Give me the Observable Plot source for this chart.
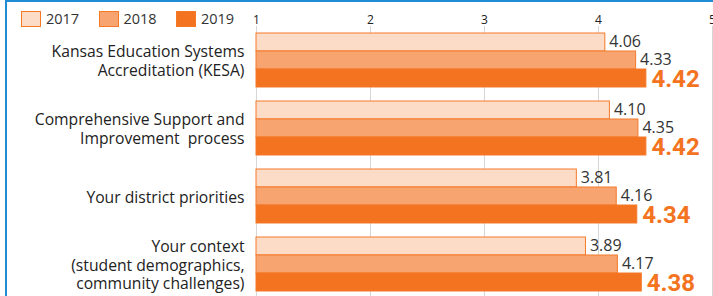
<!DOCTYPE html>
<html>
<head>
<meta charset="utf-8">
<script src="https://cdn.jsdelivr.net/npm/d3@7"></script>
<script src="https://cdn.jsdelivr.net/npm/@observablehq/plot@0.6"></script>
<style>
  html, body { margin: 0; padding: 0; background: #fff; }
  #wrap { position: relative; width: 713px; height: 296px; overflow: hidden; font-family: "Open Sans", sans-serif; }
  #wrap svg text { white-space: pre; }
  .frame-top { position: absolute; left: 5px; top: 0; width: 708px; height: 2px; background: #1f8dd6; z-index: 2; }
  .frame-left { position: absolute; left: 5px; top: 0; width: 2px; height: 296px; background: #1f8dd6; z-index: 2; }
  #legend { position: absolute; left: 21px; top: 11px; display: flex; z-index: 2; }
  .item { display: flex; align-items: center; width: 77.5px; height: 16px; }
  .sw { box-sizing: border-box; width: 20px; height: 16px; border: 1px solid #f47a2a; margin-right: 5px; }
  .lab { font-size: 14.5px; color: #333; line-height: 16px; }
</style>
</head>
<body>
<div id="wrap">
  <div class="frame-top"></div>
  <div class="frame-left"></div>
  <div id="legend"></div>
</div>
<script>
const categories = [
  "Kansas Education Systems\nAccreditation (KESA)",
  "Comprehensive Support and\nImprovement  process",
  "Your district priorities",
  "Your context\n(student demographics,\ncommunity challenges)"
];
const years = ["2017", "2018", "2019"];
const v2017 = [4.06, 4.10, 3.81, 3.89];
const v2018 = [4.33, 4.35, 4.16, 4.17];
const v2019 = [4.42, 4.42, 4.34, 4.38];
const xTicks = [1, 2, 3, 4, 5];
const fills = ["#fddcc7", "#f7a470", "#f47321"];

const series = [v2017, v2018, v2019];
const data = categories.flatMap((cat, i) =>
  years.map((year, j) => ({cat, year, value: series[j][i]}))
);

const chart = Plot.plot({
  width: 713,
  height: 296,
  marginLeft: 256,
  marginRight: 1,
  marginTop: 32,
  marginBottom: 3.6,
  style: {fontFamily: "'Open Sans', sans-serif", background: "transparent", overflow: "visible"},
  facet: {data, y: "cat"},
  x: {domain: [1, 5], axis: "top", ticks: xTicks, tickSize: 0, tickPadding: 10, label: null, tickFormat: d => String(d)},
  y: {domain: years, paddingInner: 0, paddingOuter: 0, axis: null},
  fy: {domain: categories, paddingInner: 0.21, paddingOuter: 0, axis: null, label: null},
  color: {domain: years, range: fills},
  marks: [
    Plot.ruleX(xTicks, {x: d => d, stroke: "#d6d6d6", strokeWidth: 1, insetTop: -7, insetBottom: -7}),
    Plot.barX(data, {x1: 1, x2: "value", y: "year", fill: "year", stroke: "#f47a2a", strokeWidth: 1}),
    Plot.text(data, {filter: d => d.year !== "2019", x: "value", y: "year", text: d => d.value.toFixed(2), dx: 4, dy: -1, textAnchor: "start", fontSize: 16, fill: "#333"}),
    Plot.text(data, {filter: d => d.year === "2019", x: "value", y: "year", text: d => d.value.toFixed(2), dx: 5, dy: 0.5, textAnchor: "start", fontSize: 24, fontWeight: 700, fontFamily: "Roboto, sans-serif", fill: "#f47321"}),
    Plot.text(data, {filter: d => d.year === "2018", frameAnchor: "left", y: "year", text: "cat", textAnchor: "end", dx: -12, fontSize: 15.7, lineHeight: 1.2, fill: "#222"})
  ]
});

chart.style.position = "absolute";
chart.style.left = "0px";
chart.style.top = "0px";
chart.querySelectorAll("g[aria-label='x-axis tick label'] text, g[aria-label='x-axis'] text").forEach(t => { t.setAttribute("font-size", "12"); t.style.fill = "#222"; });
document.getElementById("wrap").appendChild(chart);

const legend = document.getElementById("legend");
years.forEach((y, i) => {
  const item = document.createElement("div");
  item.className = "item";
  const sw = document.createElement("div");
  sw.className = "sw";
  sw.style.background = fills[i];
  const lab = document.createElement("span");
  lab.className = "lab";
  lab.textContent = y;
  item.appendChild(sw);
  item.appendChild(lab);
  legend.appendChild(item);
});
</script>
</body>
</html>
